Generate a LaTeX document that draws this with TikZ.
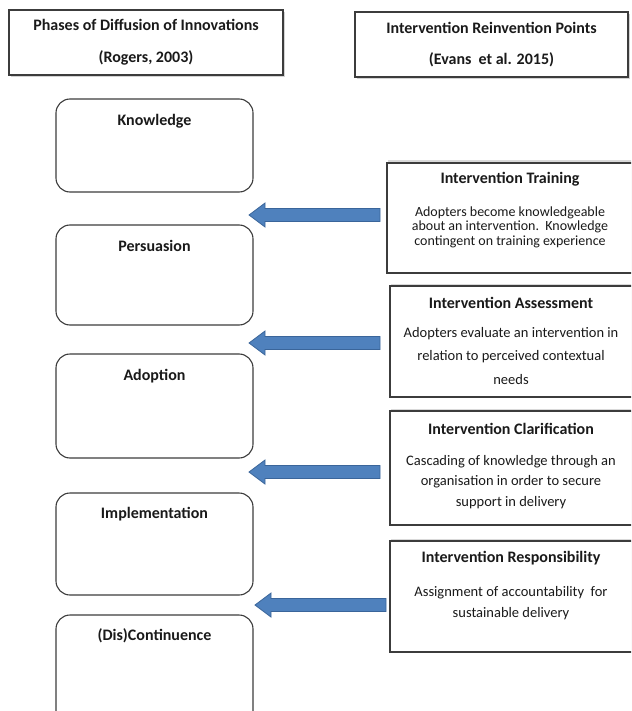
\documentclass[tikz,border=0pt]{standalone}
\usepackage{fontspec}
\setmainfont{Carlito}
\usetikzlibrary{shadows}
\definecolor{arrowfill}{HTML}{4F81BD}
\definecolor{arrowedge}{HTML}{3A659A}
\definecolor{edgegray}{HTML}{3C3C3C}
\definecolor{txt}{HTML}{1A1A1A}
\newcommand\myarrow[3]{% tail x, center y, tip x
  \draw[blockarr] (#1,#2) ++(0,-6.5) -- (#3+16,#2-6.5) -- (#3+16,#2-12) -- (#3,#2)
    -- (#3+16,#2+12) -- (#3+16,#2+6.5) -- (#1,#2+6.5) -- cycle;}
\begin{document}
\begin{tikzpicture}[x=1pt,y=-1pt,
  phase/.style={draw=edgegray, line width=1.1pt, rounded corners=14pt, fill=white,
    minimum width=197pt, inner sep=0pt},
  hdr/.style={draw=edgegray, line width=1.1pt, fill=white, inner sep=0pt,
    drop shadow={shadow xshift=2pt, shadow yshift=-2pt, opacity=.35, fill=gray}},
  ptbox/.style={draw=edgegray, line width=1.1pt, fill=white, inner sep=0pt,
    drop shadow={shadow xshift=1pt, shadow yshift=2.5pt, opacity=.3, fill=gray}},
  ttl/.style={font=\bfseries\fontsize{16}{19}\selectfont, text=txt, inner sep=0pt},
  body/.style={text=txt, align=center, inner sep=0pt},
  blockarr/.style={fill=arrowfill, draw=arrowedge, line width=0.8pt, line join=miter}
]
\useasboundingbox (0,0) rectangle (631,711);
\begin{scope}
\clip (0,0) rectangle (631,711);
% header boxes
\node[hdr, minimum width=274pt, minimum height=65pt] (h1) at (146,42.5) {};
\node[ttl] (h1a) at (146,25) {Phases of Diffusion of Innovations};
\node[ttl] (h1b) at (146,58) {(Rogers, 2003)};
\node[hdr, minimum width=273pt, minimum height=65pt] (h2) at (491.5,44.5) {};
\node[ttl] (h2a) at (491.5,28) {Intervention Reinvention Points};
\node[ttl] (h2b) at (491.5,60) {(Evans\ \ et al. 2015)};
% phases
\node[phase, minimum height=93pt] (p1) at (154.5,145.5) {};
\node[ttl] (p1t) at (154.5,121) {Knowledge};
\node[phase, minimum height=100pt] (p2) at (154.5,275) {};
\node[ttl] (p2t) at (154.5,246) {Persuasion};
\node[phase, minimum height=104pt] (p3) at (154.5,406) {};
\node[ttl] (p3t) at (154.5,376) {Adoption};
\node[phase, minimum height=102pt] (p4) at (154.5,544) {};
\node[ttl] (p4t) at (154.5,514) {Implementation};
\node[phase, minimum height=115pt] (p5) at (154.5,672.5) {};
\node[ttl] (p5t) at (154.5,636) {(Dis)Continuence};
% reinvention points
\node[ptbox, minimum width=253pt, minimum height=110pt] (r1) at (513.5,218) {};
\node[ttl] (r1t) at (510,179) {Intervention Training};
\node[body, font=\fontsize{14}{14.5}\selectfont] (r1b) at (510,227)
  {Adopters become knowledgeable\\about an intervention.\ \ Knowledge\\contingent on training experience};
\node[ptbox, minimum width=250pt, minimum height=111pt] (r2) at (515,341.5) {};
\node[ttl] (r2t) at (511,303) {Intervention Assessment};
\node[body, font=\fontsize{14.5}{23.5}\selectfont] (r2b) at (511,356)
  {Adopters evaluate an intervention in\\relation to perceived contextual\\needs};
\node[ptbox, minimum width=250pt, minimum height=114pt] (r3) at (515,468) {};
\node[ttl] (r3t) at (511,429) {Intervention Clarification};
\node[body, font=\fontsize{14.5}{20.5}\selectfont] (r3b) at (511,482)
  {Cascading of knowledge through an\\organisation in order to secure\\support in delivery};
\node[ptbox, minimum width=250pt, minimum height=111pt] (r4) at (515,596.5) {};
\node[ttl] (r4t) at (511,558) {Intervention Responsibility};
\node[body, font=\fontsize{14.5}{21}\selectfont] (r4b) at (511,603.5)
  {Assignment of accountability\ \ for\\sustainable delivery};
% block arrows
\myarrow{380}{215}{249}
\myarrow{380}{343}{249}
\myarrow{380}{472}{249}
\myarrow{386}{605}{255}
\end{scope}
\end{tikzpicture}
\end{document}
